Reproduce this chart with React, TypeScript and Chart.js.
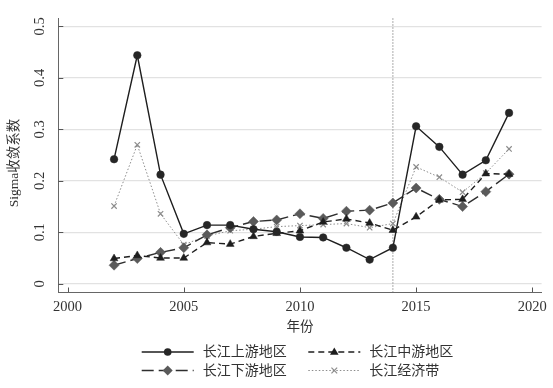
import React, { useEffect, useRef } from "react";
import { Chart, registerables } from "chart.js";

Chart.register(...registerables);

// ---- data ----
const years = [2002, 2003, 2004, 2005, 2006, 2007, 2008, 2009, 2010, 2011, 2012, 2013, 2014, 2015, 2016, 2017, 2018, 2019];
const upperValues = [0.242, 0.444, 0.212, 0.097, 0.114, 0.114, 0.106, 0.101, 0.091, 0.090, 0.070, 0.047, 0.070, 0.306, 0.266, 0.212, 0.240, 0.332];
const middleValues = [0.049, 0.055, 0.050, 0.050, 0.080, 0.077, 0.092, 0.098, 0.103, 0.120, 0.126, 0.118, 0.104, 0.130, 0.163, 0.164, 0.214, 0.213];
const lowerValues = [0.036, 0.049, 0.061, 0.070, 0.095, 0.109, 0.121, 0.124, 0.136, 0.127, 0.141, 0.143, 0.157, 0.186, 0.164, 0.150, 0.179, 0.213];
const beltValues = [0.151, 0.270, 0.136, 0.076, 0.093, 0.103, 0.106, 0.111, 0.113, 0.115, 0.117, 0.109, 0.117, 0.227, 0.207, 0.178, 0.215, 0.262];
const seriesNames = ["长江上游地区", "长江中游地区", "长江下游地区", "长江经济带"];
const xTickValues = [2000, 2005, 2010, 2015, 2020];
const yTickValues = [0, 0.1, 0.2, 0.3, 0.4, 0.5];
const xTitle = "年份";
const yTitle = "Sigma收敛系数";
const policyYear = 2014;

const FONT_FAMILY = '"Liberation Serif", "Noto Sans CJK SC", serif';

type Style = {
  line: string;
  width: number;
  dash: number[];
  marker: "circle" | "triangle" | "rectRot" | "crossRot";
  radius: number;
  fill: string;
};

const styles: Style[] = [
  { line: "#1e1e1e", width: 1.4, dash: [], marker: "circle", radius: 3.8, fill: "#262626" },
  { line: "#1e1e1e", width: 1.4, dash: [6, 4], marker: "triangle", radius: 4.5, fill: "#1e1e1e" },
  { line: "#2e2e2e", width: 1.4, dash: [12, 5], marker: "rectRot", radius: 5, fill: "#5a5a5a" },
  { line: "#8c8c8c", width: 1, dash: [1.5, 2], marker: "crossRot", radius: 3.8, fill: "#8c8c8c" },
];

function drawMarker(ctx: CanvasRenderingContext2D, s: Style, cx: number, cy: number) {
  const r = s.radius;
  ctx.save();
  ctx.setLineDash([]);
  ctx.fillStyle = s.fill;
  ctx.strokeStyle = s.fill;
  ctx.lineWidth = 1.2;
  ctx.beginPath();
  if (s.marker === "circle") {
    ctx.arc(cx, cy, r, 0, Math.PI * 2);
    ctx.fill();
  } else if (s.marker === "triangle") {
    ctx.moveTo(cx, cy - r);
    ctx.lineTo(cx + r * 0.95, cy + r * 0.6);
    ctx.lineTo(cx - r * 0.95, cy + r * 0.6);
    ctx.closePath();
    ctx.fill();
  } else if (s.marker === "rectRot") {
    ctx.moveTo(cx, cy - r);
    ctx.lineTo(cx + r, cy);
    ctx.lineTo(cx, cy + r);
    ctx.lineTo(cx - r, cy);
    ctx.closePath();
    ctx.fill();
  } else {
    const d = r * 0.75;
    ctx.moveTo(cx - d, cy - d);
    ctx.lineTo(cx + d, cy + d);
    ctx.moveTo(cx + d, cy - d);
    ctx.lineTo(cx - d, cy + d);
    ctx.stroke();
  }
  ctx.restore();
}

const decorPlugin = {
  id: "decor",
  beforeDatasetsDraw(chart: any) {
    const { ctx, chartArea, scales } = chart;
    const px = scales.x.getPixelForValue(policyYear);
    ctx.save();
    ctx.strokeStyle = "#9a9a9a";
    ctx.lineWidth = 1.1;
    ctx.setLineDash([1.5, 1.5]);
    ctx.beginPath();
    ctx.moveTo(px, chartArea.top);
    ctx.lineTo(px, chartArea.bottom);
    ctx.stroke();
    ctx.restore();
  },
  afterDraw(chart: any) {
    const { ctx, chartArea, scales } = chart;
    ctx.save();
    // inward tick marks
    ctx.strokeStyle = "#555";
    ctx.lineWidth = 1;
    ctx.beginPath();
    xTickValues.forEach((v) => {
      const p = Math.round(scales.x.getPixelForValue(v)) + 0.5;
      ctx.moveTo(p, chartArea.bottom);
      ctx.lineTo(p, chartArea.bottom - 4.5);
    });
    yTickValues.forEach((v) => {
      const p = Math.round(scales.y.getPixelForValue(v)) + 0.5;
      ctx.moveTo(chartArea.left, p);
      ctx.lineTo(chartArea.left + 5, p);
    });
    ctx.stroke();

    // axis titles
    ctx.fillStyle = "#333";
    ctx.font = `13.5px ${FONT_FAMILY}`;
    ctx.textAlign = "center";
    ctx.textBaseline = "middle";
    ctx.fillText(xTitle, (chartArea.left + chartArea.right) / 2, 327);
    ctx.save();
    ctx.translate(14, 163);
    ctx.rotate(-Math.PI / 2);
    ctx.fillText(yTitle, 0, 0);
    ctx.restore();

    // legend
    const cols = [141.7, 308.3];
    const rows = [352, 370.5];
    const lineLen = 52;
    ctx.font = `14px ${FONT_FAMILY}`;
    ctx.textAlign = "left";
    ctx.textBaseline = "middle";
    const order = [0, 1, 2, 3];
    order.forEach((i, k) => {
      const s = styles[i];
      const x0 = cols[k % 2];
      const y0 = rows[Math.floor(k / 2)];
      ctx.save();
      ctx.strokeStyle = s.line;
      ctx.lineWidth = s.width;
      ctx.setLineDash(s.dash);
      ctx.beginPath();
      ctx.moveTo(x0, y0);
      ctx.lineTo(x0 + lineLen, y0);
      ctx.stroke();
      ctx.restore();
      drawMarker(ctx, s, x0 + lineLen / 2, y0);
      ctx.fillStyle = "#333";
      ctx.fillText(seriesNames[i], x0 + lineLen + 9, y0 + 0.5);
    });
    ctx.restore();
  },
};

export default function App() {
  const canvasRef = useRef<HTMLCanvasElement | null>(null);

  useEffect(() => {
    document.body.style.margin = "0";
    const canvas = canvasRef.current;
    if (!canvas) return;
    const seriesValues = [upperValues, middleValues, lowerValues, beltValues];
    const datasets = seriesValues.map((vals, i) => {
      const s = styles[i];
      return {
        label: seriesNames[i],
        data: years.map((yr, j) => ({ x: yr, y: vals[j] })),
        borderColor: s.line,
        borderWidth: s.width,
        borderDash: s.dash,
        pointStyle: s.marker,
        pointRadius: s.radius,
        pointBackgroundColor: s.fill,
        pointBorderColor: s.fill,
        pointBorderWidth: s.marker === "crossRot" ? 1.2 : 0.5,
        fill: false,
        tension: 0,
      };
    });

    const chart = new Chart(canvas, {
      type: "line",
      data: { datasets },
      plugins: [decorPlugin],
      options: {
        responsive: false,
        animation: false,
        events: [],
        layout: { padding: { top: 15, right: 11.3, left: 0, bottom: 66 } },
        plugins: {
          legend: { display: false },
          tooltip: { enabled: false },
          title: { display: false },
        },
        scales: {
          x: {
            type: "linear",
            min: 1999.6,
            max: 2020.4,
            afterBuildTicks: (scale: any) => {
              scale.ticks = xTickValues.map((v) => ({ value: v }));
            },
            afterFit: (scale: any) => {
              scale.height = 30;
            },
            grid: { display: false, drawTicks: false },
            border: { display: true, color: "#666", width: 1 },
            ticks: {
              color: "#333",
              font: { family: FONT_FAMILY, size: 14.5 },
              padding: 6,
              maxRotation: 0,
              minRotation: 0,
              autoSkip: false,
              callback: (v: any) => String(v),
            },
          },
          y: {
            type: "linear",
            min: -0.016,
            max: 0.516,
            afterBuildTicks: (scale: any) => {
              scale.ticks = yTickValues.map((v) => ({ value: v }));
            },
            afterFit: (scale: any) => {
              scale.width = 58.3;
            },
            grid: { display: true, color: "#e2e2e2", lineWidth: 1.3, drawTicks: false },
            border: { display: true, color: "#666", width: 1 },
            ticks: {
              color: "#333",
              font: { family: FONT_FAMILY, size: 14.5 },
              padding: 9.5,
              minRotation: 90,
              maxRotation: 90,
              crossAlign: "center",
              autoSkip: false,
              callback: (v: any) => String(Math.round(Number(v) * 10) / 10),
            },
          },
        },
      } as any,
    });
    return () => chart.destroy();
  }, []);

  return <canvas ref={canvasRef} width={553} height={388} style={{ display: "block" }} />;
}
